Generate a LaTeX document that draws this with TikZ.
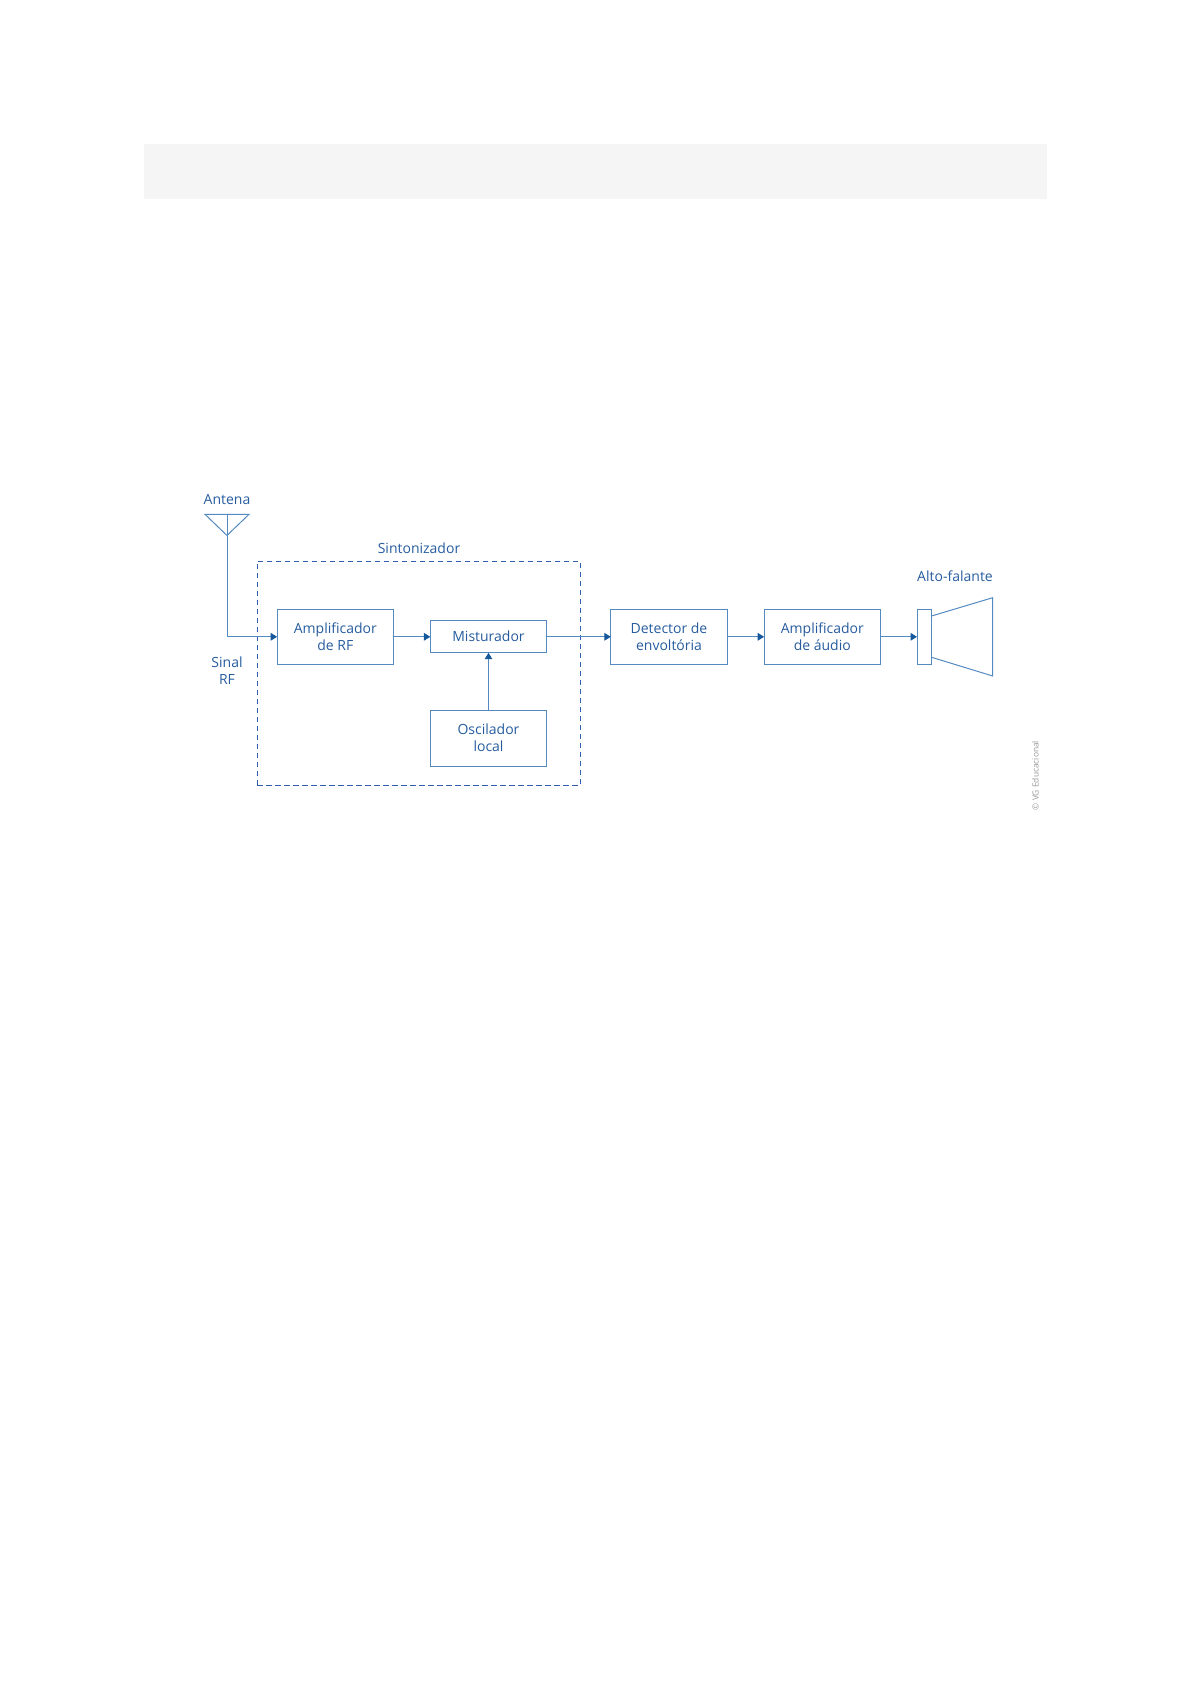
\documentclass[tikz,border=0pt]{standalone}
\usepackage{fontspec}
\setmainfont{Open Sans}
\usetikzlibrary{arrows.meta}
\definecolor{bandcol}{RGB}{245,245,245}
\definecolor{linecol}{RGB}{84,138,194}
\definecolor{tipcol}{RGB}{22,88,156}
\definecolor{textcol}{RGB}{38,92,158}
\definecolor{dashcol}{RGB}{48,96,172}
\tikzset{
    block/.style={draw=linecol, line width=0.5pt, outer sep=0pt, inner sep=0pt, align=center, text=textcol, minimum width=58.2pt, font=\fontsize{7}{8.5}\selectfont},
    tag/.style={text=textcol, align=center, inner sep=0pt, font=\fontsize{7}{8.5}\selectfont},
    wire/.style={draw=linecol, line width=0.5pt},
    feed/.style={wire, -{Triangle[length=3.2pt, width=3.8pt, color=tipcol]}}
}
\begin{document}
\begin{tikzpicture}[x=0.5pt, y=-0.5pt]
    \useasboundingbox (0,0) rectangle (1191,1684);

    % Grey band at the top
    \fill[bandcol] (144,144) rectangle (1047,199);

    % Tuner frame
    \node[draw=dashcol, line width=0.45pt, dash pattern=on 2.6pt off 1.9pt, minimum width=161.5pt, minimum height=112pt, outer sep=0pt] (tuner) at (418.8,673) {};
    \node[tag] (tunerlabel) at (419,548) {Sintonizador};

    % Blocks
    \node[block, minimum height=27.5pt] (ampRF) at (335.3,636.8) {Amplificador\\de RF};
    \node[block, minimum height=16pt] (mixer) at (488.5,636.8) {\raisebox{0.4pt}{Misturador}};
    \node[block, minimum height=27.8pt] (osc) at (488.5,738.2) {Oscilador\\local};
    \node[block, minimum height=27.5pt] (detector) at (669,636.8) {Detector de\\envoltória};
    \node[block, minimum height=27.5pt] (ampAudio) at (822.3,636.8) {Amplificador\\de áudio};
    \node[block, minimum width=7.3pt, minimum height=27.5pt] (coil) at (924.3,636.8) {};

    % Antenna
    \coordinate (apex) at (227,535.5);
    \coordinate (mast) at (227,514.3);
    \draw[wire] (205,514.3) -- (249,514.3) -- (apex) -- cycle;
    \draw[wire] (mast) -- (apex);
    \node[tag] (antenna) at (227,499.6) {Antena};
    \node[tag] (signal) at (227,671) {Sinal\\RF};

    % Speaker cone
    \draw[wire] (coil.east |- 0,616) -- (992.7,597.7) -- (992.7,676) -- (coil.east |- 0,657.3);
    \node[tag] (speaker) at (955,576) {Alto-falante};

    % Signal path
    \draw[feed] (apex) |- (ampRF);
    \draw[feed] (ampRF) -- (mixer);
    \draw[feed] (mixer) -- (detector);
    \draw[feed] (osc) -- (mixer);
    \draw[feed] (detector) -- (ampAudio);
    \draw[feed] (ampAudio) -- (coil);

    % Credit
    \node[rotate=90, text=black!40, inner sep=0pt, font=\fontsize{4.2}{5}\selectfont] (credit) at (1035.5,775.5) {© VG Educacional};
\end{tikzpicture}
\end{document}
